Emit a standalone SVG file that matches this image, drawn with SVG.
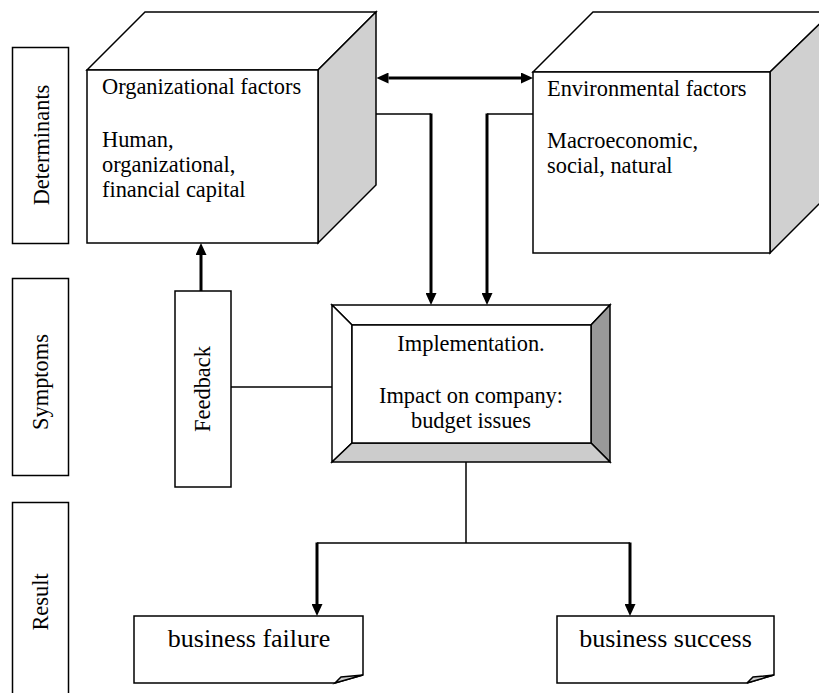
<svg xmlns="http://www.w3.org/2000/svg" width="819" height="693" viewBox="0 0 819 693">
<style>
  .box { fill: #ffffff; stroke: #000000; stroke-width: 1.5; stroke-linejoin: miter; }
  .side { fill: #d0d0d0; stroke: #000000; stroke-width: 1.5; }
  .dark { fill: #999999; stroke: #000000; stroke-width: 1.5; }
  .light { fill: #cccccc; stroke: #000000; stroke-width: 1.5; }
  .t { font-family: "Liberation Serif", "Times New Roman", serif; font-size: 22.4px; fill: #000000; }
  .big { font-family: "Liberation Serif", "Times New Roman", serif; font-size: 26px; fill: #000000; }
  .thin { fill: none; stroke: #000000; stroke-width: 1.5; }
  .thick { fill: none; stroke: #000000; stroke-width: 3; }
  .arr { marker-end: url(#ah); }
</style>
<defs>
  <marker id="ah" markerUnits="userSpaceOnUse" markerWidth="12" markerHeight="11" viewBox="0 0 12 11" refX="0" refY="5.5" orient="auto-start-reverse">
    <path d="M0,0 L12,5.5 L0,11 Z" fill="#000000"/>
  </marker>
</defs>
<rect width="819" height="693" fill="#ffffff"/>

<g id="connectors">
  <path class="thick" d="M388.5,78 L521,78" marker-start="url(#ah)" marker-end="url(#ah)"/>
  <path class="thin" d="M376,114 L431,114"/>
  <path class="thick arr" d="M431,113.5 L431,293"/>
  <path class="thin" d="M533,114 L487,114"/>
  <path class="thick arr" d="M487,113.5 L487,293"/>
  <path class="thick arr" d="M201,291 L201,255"/>
  <path class="thin" d="M231,387 L332,387"/>
  <path class="thin" d="M466,462 L466,543"/>
  <path class="thin" d="M317,543 L630,543"/>
  <path class="thick arr" d="M317,542.5 L317,604"/>
  <path class="thick arr" d="M630,542.5 L630,604"/>
</g>

<g id="label-determinants">
  <rect class="box" x="12.5" y="47.5" width="56" height="196"/>
  <text class="t" transform="translate(49,145) rotate(-90)" text-anchor="middle">Determinants</text>
</g>
<g id="label-symptoms">
  <rect class="box" x="12.5" y="278.5" width="56" height="197"/>
  <text class="t" transform="translate(48,382) rotate(-90)" text-anchor="middle">Symptoms</text>
</g>
<g id="label-result">
  <rect class="box" x="12.5" y="502.5" width="56" height="200"/>
  <text class="t" transform="translate(48,602) rotate(-90)" text-anchor="middle">Result</text>
</g>

<g id="organizational-factors">
  <polygon class="box" points="87,70 145,12 376,12 318,70"/>
  <polygon class="side" points="318,70 376,12 376,185 318,243"/>
  <rect class="box" x="87" y="70" width="231" height="173"/>
  <text class="t" x="102" y="94">Organizational factors</text>
  <text class="t" x="102" y="147">Human,</text>
  <text class="t" x="102" y="172">organizational,</text>
  <text class="t" x="102" y="197">financial capital</text>
</g>

<g id="environmental-factors">
  <polygon class="box" points="533,72 593,12 832,12 770,72"/>
  <polygon class="side" points="770,72 832,12 832,191 770,253"/>
  <rect class="box" x="533" y="72" width="237" height="181"/>
  <text class="t" x="547" y="96">Environmental factors</text>
  <text class="t" x="547" y="148">Macroeconomic,</text>
  <text class="t" x="547" y="173">social, natural</text>
</g>

<g id="feedback">
  <rect class="box" x="175" y="291" width="56" height="196"/>
  <text class="t" transform="translate(210,389) rotate(-90)" text-anchor="middle">Feedback</text>
</g>

<g id="implementation">
  <polygon class="box" points="332,305 610,305 591,325 352,325"/>
  <polygon class="box" points="332,305 352,325 352,443 332,462"/>
  <polygon class="dark" points="610,305 610,462 591,443 591,325"/>
  <polygon class="light" points="332,462 352,443 591,443 610,462"/>
  <rect class="box" x="352" y="325" width="239" height="118"/>
  <text class="t" x="471" y="350.5" text-anchor="middle">Implementation.</text>
  <text class="t" x="471" y="402.5" text-anchor="middle">Impact on company:</text>
  <text class="t" x="471" y="428" text-anchor="middle">budget issues</text>
</g>

<g id="business-failure">
  <path class="box" d="M134,616 L363,616 L363,675 L335,683 L134,683 Z"/>
  <path class="light" d="M335,683 L341,677 L363,675 Z"/>
  <text class="big" x="249" y="646.5" text-anchor="middle">business failure</text>
</g>

<g id="business-success">
  <path class="box" d="M557,616 L774,616 L774,675 L747,683 L557,683 Z"/>
  <path class="light" d="M747,683 L753,677 L774,675 Z"/>
  <text class="big" x="665.5" y="646.5" text-anchor="middle">business success</text>
</g>
</svg>
